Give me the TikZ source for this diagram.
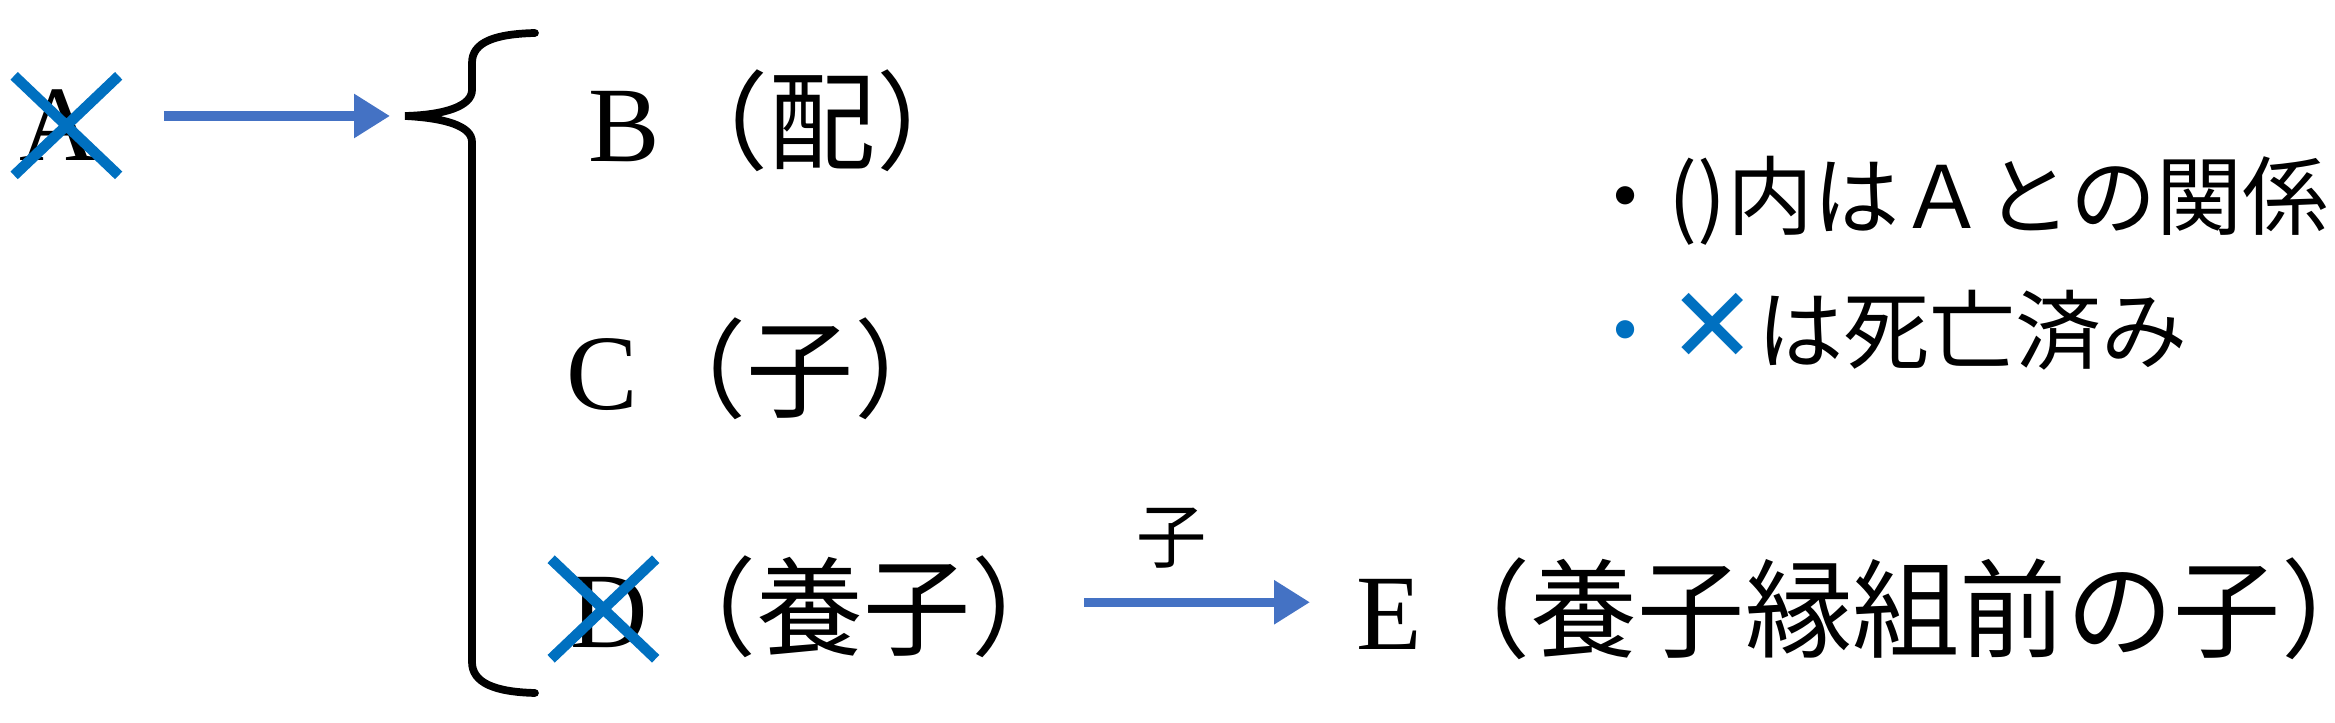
\documentclass[tikz,border=0pt]{standalone}
\usepackage{fontspec}
\setmainfont{Liberation Serif}
\newfontfamily\jp{Noto Sans CJK JP}
\newfontfamily\sym{DejaVu Sans}
\usetikzlibrary{arrows.meta, positioning, shapes.misc, calc}
\definecolor{blumorto}{HTML}{0070C0}
\definecolor{blufreccia}{HTML}{4472C4}
\newcommand{\mezza}[1]{\makebox[0.5em][l]{#1}}

\begin{document}
\begin{tikzpicture}[
			nome/.style={inner sep=0pt, font=\fontsize{30.5}{36}\selectfont},
			rel/.style={inner sep=0pt, font=\fontsize{30.5}{36}\selectfont\jp},
			nota/.style={inner sep=0pt, anchor=west, font=\fontsize{24.5}{28}\selectfont\jp},
			croce/.style={cross out, draw=blumorto, line width=3pt, minimum width=0.94cm, minimum height=0.89cm, inner sep=0pt},
			freccia/.style={draw=blufreccia, line width=2.6pt, -{Triangle[length=0.36cm, width=0.42cm]}}
			]
			\useasboundingbox (0,0) rectangle (23.35,-7.23);
			% Primo livello
			\node[nome, anchor=base west] (A) at (0.19,-1.61) {A};
			\node[croce] (xA) at ($(A.center)+(0.08,0)$) {};
			\coordinate (punta) at (4.05,-1.16);
			\draw[freccia, shorten <=0.66cm, shorten >=0.15cm] (A.east |- punta) -- (punta);
			% Graffa
			\draw[line width=2.2pt, line cap=round] (5.35,-0.33)
				.. controls (4.95,-0.34) and (4.72,-0.42) .. (4.72,-0.63) -- (4.72,-0.90)
				.. controls (4.72,-1.06) and (4.45,-1.15) .. (punta)
				.. controls (4.45,-1.18) and (4.72,-1.26) .. (4.72,-1.42) -- (4.72,-6.62)
				.. controls (4.72,-6.83) and (4.95,-6.92) .. (5.35,-6.93);
			% Secondo livello
			\node[nome, anchor=base west] (B) at (5.88,-1.62) {B};
			\node[rel, base right=0pt of B] (Brel) {（配）};
			\node[nome, anchor=base west] (C) at (5.66,-4.10) {C};
			\node[rel, base right=0pt of C] (Crel) {（子）};
			\node[nome, anchor=base west] (D) at (5.70,-6.48) {D};
			\node[rel, base right=0pt of D] (Drel) {（養子）};
			\node[croce] (xD) at ($(D.center)+(-0.06,0.04)$) {};
			% Terzo livello
			\node[nome, anchor=base west] (E) at (13.56,-6.50) {E};
			\node[rel, base right=0pt of E] (Erel) {（養子縁組前の子\mezza{）}};
			\coordinate (d0) at ($(Drel.east)+(0,0.05)$);
			\draw[freccia, shorten <=0.05cm, shorten >=0.46cm] (d0) -- (d0 -| E.west);
			\node[inner sep=0pt, font=\fontsize{20}{24}\selectfont\jp] (lab) at (11.72,-5.38) {子};
			% Note
			\node[nota] (n1) at (15.82,-2.01) {・()内はＡとの関係};
			\node[nota] (n2) at (15.82,-3.30) {{\color{blumorto}・{\fontsize{30}{30}\selectfont\sym ✕}}は死亡済み};
		\end{tikzpicture}
\end{document}
